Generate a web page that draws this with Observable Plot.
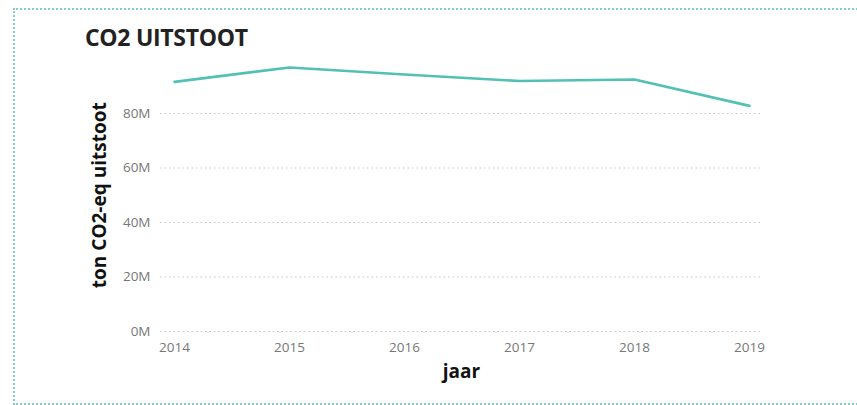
<!DOCTYPE html>
<html>
<head>
<meta charset="utf-8">
<script src="https://cdn.jsdelivr.net/npm/d3@7"></script>
<script src="https://cdn.jsdelivr.net/npm/@observablehq/plot@0.6"></script>
<style>
  html, body { margin: 0; padding: 0; background: #fff; }
  #wrap { position: relative; width: 857px; height: 405px; overflow: hidden; font-family: "Open Sans", sans-serif; }
  #border { position: absolute; left: 13px; top: 8px; width: 860px; height: 393px; border: 2px dotted #86cdc8; box-sizing: content-box; }
  #title { position: absolute; left: 85px; top: 21px; font-size: 23px; font-weight: bold; color: #222; letter-spacing: -0.3px; }
  #chart { position: absolute; left: 0; top: 0; }
  #chart svg g[aria-label="y-axis label"] text, #chart svg g[aria-label="x-axis label"] text { font-weight: bold; fill: #111; font-size: 19px; }
</style>
</head>
<body>
<div id="wrap">
  <div id="border"></div>
  <div id="title">CO2 UITSTOOT</div>
  <div id="chart"></div>
</div>
<script>
const years = [2014, 2015, 2016, 2017, 2018, 2019];
const emissions = [91.6e6, 96.9e6, 94.3e6, 91.9e6, 92.5e6, 82.8e6];
const yTicks = [0, 20e6, 40e6, 60e6, 80e6];

const data = years.map((y, i) => ({jaar: y, uitstoot: emissions[i]}));

const chart = Plot.plot({
  width: 857,
  height: 405,
  marginLeft: 160,
  marginRight: 95,
  marginTop: 58.5,
  marginBottom: 74,
  style: { fontFamily: "Open Sans, sans-serif", fontSize: "13.5px", background: "transparent" },
  x: { domain: [2013.878, 2019.113], label: "jaar" },
  y: { domain: [0, 100e6], label: "ton CO2-eq uitstoot" },
  marks: [
    Plot.gridY(yTicks, { stroke: "#c8c8c8", strokeOpacity: 1, strokeDasharray: "1.5,3", strokeWidth: 1.2 }),
    Plot.axisY(yTicks, {
      tickSize: 0, tickPadding: 10, fill: "#777",
      tickFormat: d => (d / 1e6) + "M",
      label: "ton CO2-eq uitstoot", labelAnchor: "center", labelArrow: "none", labelOffset: 68
    }),
    Plot.axisX(years, {
      tickSize: 0, tickPadding: 11, fill: "#777",
      tickFormat: d => String(d),
      label: "jaar", labelAnchor: "center", labelArrow: "none", labelOffset: 46
    }),
    Plot.line(data, { x: "jaar", y: "uitstoot", stroke: "#52c1b3", strokeWidth: 2.6 })
  ]
});
document.getElementById("chart").appendChild(chart);
</script>
</body>
</html>
